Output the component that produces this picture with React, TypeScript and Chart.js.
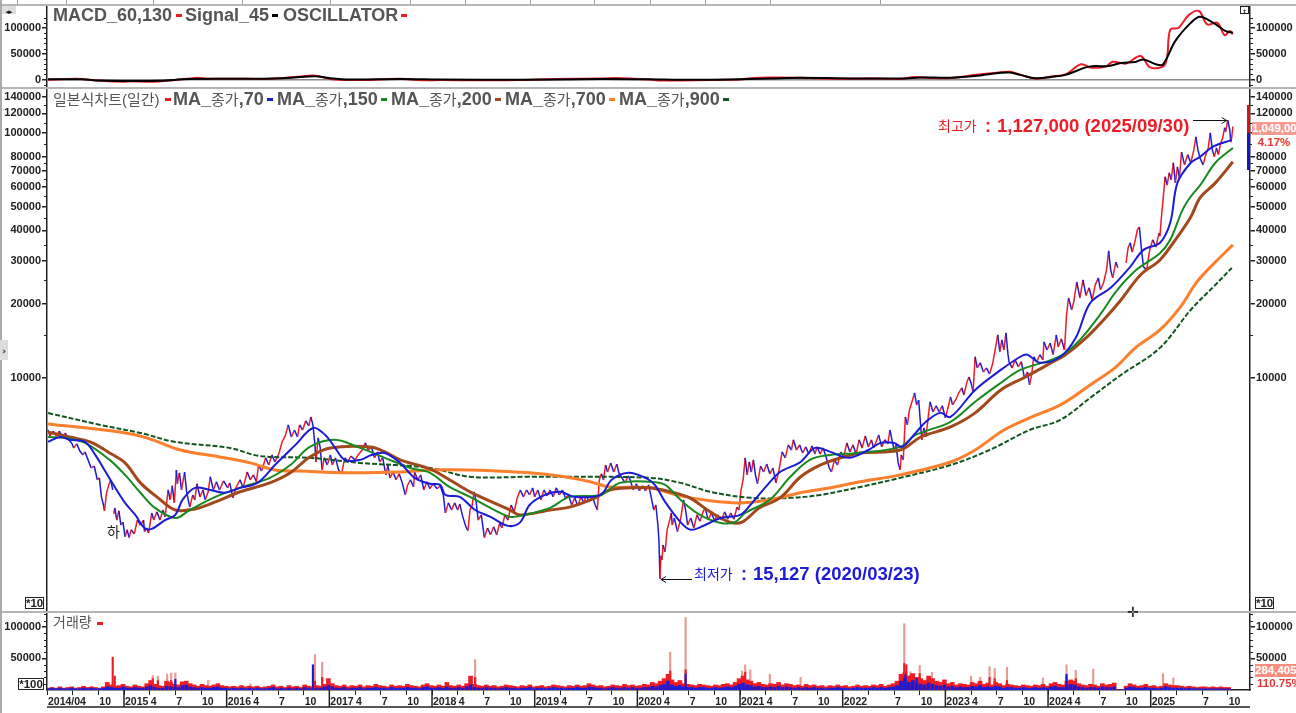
import { useEffect, useRef } from "react";
import { Chart, registerables } from "chart.js";

Chart.register(...registerables);

// time is in years since 2000, daily chart thinned out by eye
type Pair = [number, number | null];

const xMin = 14.25;
const xMax = 25.967;

const pricePath: Pair[] = [
  [14.26,6130],[14.28,5800],[14.31,6070],[14.34,5800],[14.37,6070],[14.40,5740],[14.43,5960],[14.46,5590],[14.49,5430],[14.51,5180],[14.54,5380],[14.57,5030],[14.60,4850],[14.62,4990],[14.65,4630],[14.68,4290],[14.71,4370],[14.74,3840],[14.76,3910],[14.78,3270],[14.80,3030],[14.81,2870],[14.83,3400],[14.85,3630],[14.87,3840],[14.89,3490],[14.895,null],
  [14.90,2790],[14.91,2950],[14.93,2630],[14.95,2870],[14.97,2510],[14.99,2580],[15.01,2250],[15.03,2400],[15.05,2230],[15.07,2400],[15.10,2310],[15.13,2630],[15.16,2510],[15.19,2630],[15.20,2360],[15.22,2440],[15.24,2330],[15.27,2810],[15.29,2630],[15.32,2840],[15.35,2630],[15.38,2890],[15.40,2710],[15.43,3490],[15.45,3180],[15.47,3630],[15.49,3090],[15.51,4210],[15.52,3700],[15.54,4100],[15.56,3490],[15.59,4130],[15.61,3430],[15.64,2970],[15.67,3330],[15.69,3180],[15.71,3700],[15.74,3270],[15.77,3490],[15.79,3180],[15.82,3430],[15.84,3950],[15.87,3490],[15.90,3770],[15.93,3490],[15.97,3800],
  [16.01,3560],[16.03,3730],[16.06,3240],[16.09,3560],[16.13,3840],[16.16,3560],[16.20,4130],[16.23,3840],[16.26,4020],[16.29,3770],[16.31,4410],[16.34,4170],[16.38,4720],[16.41,4410],[16.44,4850],[16.47,4540],[16.51,4940],[16.54,5480],[16.57,5800],[16.60,6430],[16.63,5740],[16.66,6130],[16.69,5740],[16.71,6430],[16.74,6130],[16.77,6680],[16.80,6370],[16.82,6930],[16.84,6430],[16.86,5330],[16.87,4540],[16.89,5690],[16.91,5230],[16.93,4210],[16.95,4720],[16.98,4410],
  [17.01,4850],[17.03,4410],[17.06,4720],[17.09,4210],[17.12,4060],[17.15,4720],[17.18,4540],[17.21,4800],[17.25,4630],[17.28,4850],[17.32,5080],[17.35,5430],[17.38,5080],[17.41,5230],[17.44,4720],[17.47,4990],[17.49,4540],[17.52,4720],[17.55,4020],[17.57,4410],[17.59,3910],[17.62,4130],[17.65,3840],[17.68,4060],[17.71,3730],[17.74,3330],[17.76,3630],[17.79,3840],[17.82,3590],[17.83,4130],[17.86,3840],[17.89,4020],[17.92,3490],[17.95,3770],[17.98,3530],
  [18.01,3700],[18.05,3530],[18.08,3630],[18.11,3330],[18.13,2810],[18.16,3090],[18.19,2890],[18.22,3090],[18.25,2890],[18.27,3060],[18.30,2710],[18.33,2470],[18.35,2380],[18.37,2890],[18.39,3000],[18.41,3430],[18.43,3120],[18.45,2630],[18.48,2760],[18.51,2230],[18.54,2440],[18.57,2290],[18.60,2470],[18.63,2290],[18.66,2560],[18.68,2440],[18.71,2760],[18.74,2630],[18.77,3030],[18.80,2840],[18.83,3240],[18.86,3490],[18.89,3270],[18.92,3490],[18.95,3330],[18.98,3560],
  [19.00,3270],[19.03,3490],[19.06,3180],[19.09,3490],[19.12,3300],[19.15,3490],[19.18,3270],[19.21,3560],[19.24,3330],[19.27,3490],[19.30,3240],[19.33,3330],[19.36,3030],[19.39,3240],[19.42,3000],[19.45,3270],[19.48,3090],[19.50,3330],[19.53,3120],[19.56,3300],[19.59,3030],[19.61,2890],[19.63,3840],[19.65,4060],[19.67,3840],[19.69,4410],[19.71,4130],[19.74,4500],[19.77,4130],[19.80,4450],[19.82,4100],[19.85,3910],[19.88,3730],[19.91,3980],[19.93,3840],[19.96,3490],[19.99,3700],
  [20.02,3460],[20.05,3630],[20.08,3460],[20.11,3660],[20.12,3490],[20.14,3180],[20.16,2890],[20.18,3030],[20.20,2510],[20.21,2180],[20.22,1513],[20.23,1880],[20.24,1810],[20.25,2080],[20.27,1950],[20.29,2400],[20.31,2580],[20.33,2810],[20.34,2510],[20.36,2680],[20.39,2360],[20.42,2630],[20.45,3180],[20.47,2890],[20.49,2510],[20.52,2680],[20.55,2440],[20.58,2760],[20.61,2600],[20.64,2840],[20.66,2950],[20.69,2630],[20.72,2810],[20.75,2630],[20.78,2760],[20.82,2630],[20.85,2840],[20.88,2650],[20.91,2810],[20.94,2650],[20.97,2970],[20.99,2890],
  [21.01,3490],[21.03,3840],[21.05,4720],[21.07,4020],[21.09,4540],[21.11,4130],[21.13,4630],[21.15,4020],[21.17,3700],[21.18,3910],[21.20,4370],[21.23,4130],[21.26,4450],[21.29,4060],[21.32,4290],[21.35,3730],[21.38,4210],[21.41,4990],[21.44,4720],[21.47,5330],[21.50,5080],[21.52,5590],[21.55,5080],[21.58,5330],[21.61,4940],[21.64,5230],[21.67,4890],[21.70,5280],[21.73,4890],[21.75,5230],[21.78,4890],[21.81,5180],[21.84,4720],[21.87,4290],[21.89,4130],[21.92,4630],[21.95,4410],[21.98,4990],
  [22.01,4760],[22.04,5430],[22.07,4990],[22.10,5330],[22.13,4890],[22.16,5590],[22.19,5180],[22.22,5800],[22.25,5230],[22.28,5590],[22.30,5180],[22.33,5540],[22.35,5850],[22.38,5230],[22.41,5590],[22.44,5380],[22.46,6130],[22.48,5590],[22.50,5080],[22.52,5330],[22.54,4500],[22.56,4210],[22.57,4850],[22.59,4630],[22.61,6930],[22.63,6430],[22.65,7400],[22.68,8130],[22.70,8680],[22.72,7760],[22.74,8130],[22.76,6310],[22.77,5590],[22.79,6250],[22.81,5740],[22.83,6740],[22.85,7990],[22.88,7260],[22.91,7700],[22.94,7260],[22.97,7700],
  [23.00,6870],[23.02,7400],[23.05,8370],[23.07,7760],[23.10,8130],[23.13,8680],[23.16,9110],[23.18,8520],[23.21,9630],[23.23,10090],[23.25,9540],[23.27,8770],[23.29,12200],[23.31,10990],[23.34,11530],[23.37,10570],[23.40,10990],[23.43,10370],[23.46,11420],[23.49,13390],[23.51,15000],[23.53,12770],[23.55,14300],[23.57,13000],[23.59,15270],[23.61,12440],[23.62,11640],[23.65,10990],[23.68,11840],[23.71,11100],[23.74,11640],[23.77,10000],[23.80,10570],[23.82,9360],[23.84,10280],[23.86,12200],[23.89,11640],[23.92,12440],[23.95,11840],[23.96,14030],[23.99,13000],
  [24.02,13870],[24.05,12440],[24.08,15000],[24.10,13390],[24.13,14430],[24.16,13000],[24.18,18100],[24.20,21200],[24.23,18950],[24.25,20400],[24.28,24660],[24.31,21200],[24.34,25100],[24.37,21700],[24.40,23320],[24.43,20800],[24.46,23980],[24.49,25600],[24.51,22900],[24.54,24400],[24.57,27600],[24.59,33000],[24.61,27600],[24.63,25600],[24.66,29700],[24.68,28130],[24.72,null],
  [24.76,29500],[24.78,34000],[24.80,35600],[24.82,32600],[24.85,36600],[24.87,40200],[24.89,41300],[24.91,33300],[24.93,28400],[24.96,27600],[24.99,33300],[25.02,36600],[25.05,34200],[25.08,39000],[25.09,37900],[25.10,43300],[25.12,53300],[25.14,66200],[25.16,61200],[25.18,68700],[25.20,64300],[25.22,75500],[25.24,62500],[25.26,72700],[25.28,65500],[25.30,83500],[25.33,74000],[25.36,81500],[25.39,75500],[25.42,85200],[25.44,96200],[25.46,85200],[25.48,79000],[25.51,74000],[25.53,79800],[25.56,86800],[25.58,100000],[25.60,85200],[25.62,79800],[25.64,86800],[25.66,81500],[25.68,90800],[25.70,95000],[25.72,104900],[25.73,101000],[25.75,112700],[25.77,102900],[25.78,91700],[25.79,96200],[25.80,106000],
];

const ma70: Pair[] = [
  [14.26,5490],[14.38,5740],[14.47,5590],[14.62,5480],[14.72,4850],[14.81,4210],[14.91,3590],[15.01,3090],[15.11,2760],[15.20,2440],[15.27,2420],[15.40,2630],[15.50,2760],[15.57,3180],[15.69,3560],[15.84,3490],[15.98,3400],[16.13,3560],[16.30,3730],[16.47,4410],[16.67,5330],[16.84,6250],[16.96,5850],[17.05,5230],[17.15,4630],[17.30,4630],[17.41,4850],[17.54,4940],[17.69,4500],[17.83,3910],[17.98,3700],[18.08,3660],[18.13,3330],[18.27,3270],[18.42,2890],[18.57,2710],[18.74,2490],[18.86,2580],[18.95,3030],[19.10,3330],[19.25,3430],[19.39,3270],[19.64,3330],[19.75,3840],[19.91,4100],[20.08,3910],[20.17,3660],[20.27,3120],[20.42,2580],[20.52,2400],[20.66,2510],[20.81,2680],[21.00,2760],[21.10,3030],[21.25,3590],[21.39,4130],[21.59,4540],[21.73,5180],[21.88,4990],[22.06,4720],[22.25,5080],[22.37,5430],[22.50,5430],[22.58,5230],[22.71,5960],[22.81,6620],[22.95,7200],[23.05,6930],[23.29,8930],[23.54,10780],[23.73,12200],[23.80,12440],[23.92,11530],[24.12,12200],[24.27,14570],[24.41,20200],[24.61,23320],[24.80,28400],[24.93,33300],[25.09,35600],[25.19,43000],[25.26,62500],[25.39,75500],[25.48,79800],[25.61,88000],[25.79,93600],
];
const ma150: Pair[] = [
  [14.26,5740],[14.43,5690],[14.62,5430],[14.86,4630],[15.01,4020],[15.16,3400],[15.30,2950],[15.50,2680],[15.64,2890],[15.89,3270],[16.13,3560],[16.42,3910],[16.62,4410],[16.81,5230],[17.05,5590],[17.30,5180],[17.54,4720],[17.79,4290],[17.98,4100],[18.17,3590],[18.37,3270],[18.61,2890],[18.76,2710],[18.90,2760],[19.15,2950],[19.34,3270],[19.64,3330],[19.83,3730],[20.12,3770],[20.27,3660],[20.42,3180],[20.61,2760],[20.81,2560],[20.95,2580],[21.05,2810],[21.29,3180],[21.49,3950],[21.68,4630],[21.88,4850],[22.15,4940],[22.56,5230],[22.71,5850],[23.05,6620],[23.29,7990],[23.54,9540],[23.73,10780],[24.03,11840],[24.17,12650],[24.32,14430],[24.52,18440],[24.66,22460],[24.86,27600],[25.09,32300],[25.19,36600],[25.31,48500],[25.39,55000],[25.48,61000],[25.63,75500],[25.80,86800],
];
const ma200: Pair[] = [
  [14.26,6010],[14.47,5740],[14.67,5480],[14.86,4940],[15.01,4500],[15.16,3730],[15.32,3270],[15.50,2890],[15.69,2920],[15.89,3120],[16.13,3430],[16.42,3730],[16.62,4100],[16.81,4760],[17.01,5180],[17.40,5230],[17.54,4990],[17.69,4630],[17.98,4250],[18.17,3840],[18.37,3430],[18.76,2890],[18.86,2760],[19.15,2890],[19.34,2970],[19.59,3240],[19.73,3490],[19.93,3560],[20.12,3560],[20.32,3430],[20.51,3240],[20.71,2840],[20.90,2580],[21.02,2580],[21.19,2950],[21.39,3240],[21.59,3950],[21.78,4410],[21.98,4720],[22.17,4940],[22.56,5080],[22.76,5740],[23.05,6310],[23.29,7200],[23.54,8930],[23.78,10090],[24.03,11530],[24.17,12440],[24.37,14570],[24.56,17600],[24.71,20800],[24.90,26300],[25.09,30300],[25.24,36600],[25.39,45400],[25.48,54300],[25.63,62500],[25.80,76200],
];
const ma700: Pair[] = [
  [14.26,6490],[14.96,6010],[15.22,5690],[15.55,5080],[15.93,4760],[16.23,4500],[16.47,4210],[16.71,4170],[17.20,4100],[17.69,4130],[17.98,4210],[18.37,4210],[18.95,4100],[19.29,3950],[19.54,3770],[19.73,3590],[20.12,3560],[20.42,3300],[20.71,3150],[21.00,3090],[21.29,3180],[21.59,3400],[21.88,3560],[22.17,3770],[22.56,4020],[23.05,4540],[23.29,5080],[23.57,6130],[23.82,6870],[24.12,7760],[24.41,9360],[24.66,11070],[24.85,13260],[25.09,15700],[25.29,19500],[25.45,24660],[25.63,29700],[25.80,34900],
];
const ma900: Pair[] = [
  [14.26,7190],[14.77,6430],[15.16,5960],[15.50,5480],[16.03,5180],[16.32,4800],[16.81,4720],[17.30,4500],[17.98,4290],[18.37,3950],[18.95,3950],[19.29,3950],[20.12,3910],[20.42,3730],[20.71,3430],[21.10,3240],[21.49,3240],[21.78,3330],[22.17,3590],[22.56,3910],[23.05,4410],[23.43,5080],[23.82,6130],[24.12,6740],[24.41,8290],[24.71,10280],[25.09,13260],[25.39,18950],[25.63,23980],[25.79,28100],
];

const macdLine: Pair[] = [
  [14.26,-500],[14.45,1000],[14.58,1000],[14.77,-2500],[15.0,-4500],[15.06,-3500],[15.25,-4500],[15.5,-1000],[15.64,2000],[15.72,3500],[15.8,1500],[16.1,1500],[16.32,1000],[16.55,3000],[16.7,5500],[16.86,7500],[17.01,1000],[17.2,-1000],[17.5,0],[17.69,1500],[17.9,-1500],[18.08,-1000],[18.5,-1500],[18.86,-1000],[19.2,1000],[19.64,2000],[19.8,3000],[20.12,0],[20.22,-2000],[20.42,-1800],[20.7,-800],[21.0,0],[21.1,2500],[21.3,4000],[21.59,3500],[21.9,1500],[22.3,1800],[22.56,1000],[22.7,5000],[22.85,3000],[23.05,3000],[23.3,9000],[23.5,13000],[23.63,15000],[23.75,8000],[23.88,1500],[24.03,6000],[24.17,10000],[24.32,29500],[24.42,23000],[24.56,25000],[24.63,34500],[24.76,31000],[24.90,45600],[25.0,23000],[25.14,29500],[25.19,97000],[25.27,100000],[25.37,125000],[25.47,133000],[25.55,107000],[25.65,110000],[25.72,86000],[25.77,94000],[25.80,88000],
];
const signalLine: Pair[] = [
  [14.26,500],[14.58,500],[14.77,-2000],[15.06,-3000],[15.35,-2500],[15.64,1000],[16.32,1500],[16.62,3500],[16.86,6500],[17.01,2500],[17.2,0],[17.69,1000],[18.08,0],[18.86,-500],[19.64,1000],[20.12,500],[20.42,-500],[20.9,200],[21.29,2000],[21.59,3500],[22.08,2000],[22.61,2000],[22.76,4000],[23.05,3500],[23.34,8000],[23.54,13000],[23.63,13500],[23.73,9000],[23.88,2500],[24.03,5000],[24.17,9000],[24.40,25000],[24.59,26000],[24.71,32000],[24.85,34000],[24.93,39000],[25.05,29500],[25.12,29500],[25.24,75000],[25.39,110000],[25.48,122000],[25.61,110000],[25.73,94000],[25.80,91000],
];

// volume in thousands, one value every two weeks from volumeStart
const volumeStart = 14.26;
const volumeRed = [
  3,4,3,5,3,4,5,3,4,6,4,5,4,3,5,12,8,6,7,9,6,5,8,6,5,10,
  15,9,7,6,14,12,9,8,13,14,10,8,6,9,7,6,8,10,7,6,5,6,5,7,5,6,
  5,6,4,5,6,8,5,6,4,7,5,6,4,8,6,5,7,6,9,18,10,7,6,8,5,7,
  6,8,5,7,6,9,7,6,5,8,6,7,6,9,7,6,5,8,10,7,6,8,6,12,7,6,
  8,6,10,22,9,7,6,8,6,7,5,6,8,7,6,5,7,6,8,5,6,7,5,6,8,7,
  6,5,7,6,8,6,7,10,8,6,7,5,6,8,7,6,9,7,8,6,7,9,8,12,10,14,
  18,25,16,12,15,10,9,8,7,9,8,7,6,8,7,9,10,8,12,18,22,16,14,10,12,9,
  8,10,9,12,8,10,9,7,8,6,9,7,8,6,7,5,7,6,8,6,7,5,6,8,6,7,
  6,8,7,9,6,8,10,14,25,28,22,26,20,18,15,22,18,14,12,16,10,12,8,10,9,8,
  12,10,14,9,11,8,12,10,7,9,8,7,6,8,7,6,8,7,9,6,10,12,9,8,14,16,
  14,10,8,7,9,8,6,10,8,9,11,0,0,6,10,8,6,7,9,6,7,5,6,10,8,7,
  7,6,5,6,5,4,5,5,4,5,4,5,4,4,
];
const volumeBlue = [
  2,3,2,3,2,2,3,2,2,3,2,3,2,2,3,5,4,3,3,5,3,3,4,3,3,5,
  7,4,3,3,6,5,4,4,7,8,5,4,3,4,3,3,4,5,3,3,2,3,2,3,2,3,
  2,3,2,2,3,4,2,3,2,3,2,3,2,4,3,2,3,3,5,7,5,3,3,4,2,3,
  3,4,2,3,3,4,3,3,2,4,3,3,3,4,3,3,2,4,5,3,3,4,3,5,3,3,
  4,3,5,8,4,3,3,4,3,3,2,3,4,3,3,2,3,3,4,2,3,3,2,3,4,3,
  3,2,3,3,4,3,3,5,4,3,3,2,3,4,3,3,4,3,4,3,3,4,4,6,5,7,
  9,14,8,6,7,5,4,4,3,4,4,3,3,4,3,4,5,4,6,9,11,8,7,5,6,4,
  4,5,4,6,4,5,4,3,4,3,4,3,4,3,3,2,3,3,4,3,3,2,3,4,3,3,
  3,4,3,4,3,4,5,7,14,18,12,15,11,9,8,11,9,7,6,8,5,6,4,5,4,4,
  6,5,7,4,5,4,6,5,3,4,4,3,3,4,3,3,4,3,4,3,5,6,4,4,7,9,
  8,5,4,3,4,4,3,5,4,4,5,0,0,3,5,4,3,3,4,3,3,2,3,5,4,3,
  3,3,2,3,2,2,2,2,2,2,2,2,2,2,
];
const volumePale: Pair[] = [
  [15.28,23],[15.33,22],[15.42,25],[15.46,27],[15.50,27],[15.82,15],[16.23,10],[16.86,56],[16.93,44],[18.42,48],[20.32,60],[20.47,115],[21.02,30],[21.05,40],[21.10,32],[21.29,25],[21.59,20],[22.60,105],[22.66,29],[22.75,39],[22.87,28],[23.25,22],[23.34,20],[23.43,37],[23.48,34],[23.60,36],[23.95,19],[24.18,40],[24.27,31],[24.44,33],[25.12,26],[25.22,19],
];
const volumeStrong: Pair[] = [
  [14.89,52],[14.91,22],[15.28,18],[15.33,15],[15.46,15],[16.86,14],[16.93,20],[18.42,20],[20.32,30],[20.47,32],[21.05,28],[22.60,42],[22.62,40],[22.66,24],[22.75,26],[23.43,20],[23.48,18],[23.60,15],[24.18,20],[24.27,18],
];
const volumeBlueSpikes: Pair[] = [
  [15.50,17],[16.84,40],[20.47,25],[22.61,24],[22.72,18],[24.18,25],
];

const macdTicks = [100000, 50000, 0];
const macdMinor = [120000, 110000, 90000, 80000, 70000, 60000, 40000, 30000, 20000, 10000, -10000];
const priceTicks = [140000, 120000, 100000, 80000, 70000, 60000, 50000, 40000, 30000, 20000, 10000];
const priceMinor = [130000, 110000, 90000, 75000, 65000, 55000, 45000, 35000, 25000, 15000];
const volumeTicks = [100, 50];
const volumeMinor = [120, 110, 90, 80, 70, 60, 40, 30, 20, 10];

const years = [15, 16, 17, 18, 19, 20, 21, 22, 23, 24, 25];
const noAprilLabel = [22, 25];

const xTicks = [
  { value: 14.25, label: "2014/04" },
  { value: 14.5, label: "" },
  { value: 14.75, label: "10" },
  ...years.flatMap((y) => [
    { value: y, label: String(2000 + y) },
    { value: y + 0.25, label: noAprilLabel.includes(y) ? "" : "4" },
    { value: y + 0.5, label: "7" },
    { value: y + 0.75, label: "10" },
  ]),
];

const RED = "#ee1c25";
const BLUE = "#1c1cd6";
const GREEN = "#178a1f";
const BROWN = "#a2491c";
const ORANGE = "#fb7f2c";
const DARKGREEN = "#11551f";
const INK = "#222";
const GREY = "#555";
const FONT = "'Liberation Sans', 'Noto Sans CJK KR', sans-serif";
const tickFont = { family: "'Liberation Sans', sans-serif", size: 11, weight: "bold" as const };
const dateFont = { family: "'Liberation Sans', sans-serif", size: 10.5, weight: "bold" as const };

const pts = (pairs: Pair[]) => pairs.map(([x, y]) => ({ x, y }));

function yAxis(position: "left" | "right", type: string, min: number, max: number, ticks: number[], format: (v: number) => string, zero = false) {
  return {
    type,
    position,
    min,
    max,
    afterFit: (s: any) => {
      s.width = position === "left" ? 47 : 46;
      // no room kept for half labels, the plot fills the whole panel height
      s.paddingTop = 0;
      s.paddingBottom = 0;
    },
    afterBuildTicks: (s: any) => {
      s.ticks = ticks.map((value) => ({ value }));
    },
    border: { color: INK, width: 1.5 },
    grid: {
      drawOnChartArea: zero,
      tickLength: 5,
      tickColor: INK,
      lineWidth: 1.5,
      color: (c: any) => (c.tick && c.tick.value === 0 ? "#8a8a8a" : "transparent"),
    },
    ticks: {
      autoSkip: false,
      padding: 1,
      color: INK,
      font: tickFont,
      callback: (v: any) => format(Number(v)),
    },
  };
}

const hiddenX = { type: "linear", min: xMin, max: xMax, display: false };

// little unlabelled ticks on both axes
function minorTickPlugin(minor: number[]) {
  return {
    id: "minorTicks",
    afterDraw(chart: any) {
      const { ctx, chartArea, scales } = chart;
      ctx.save();
      ctx.strokeStyle = INK;
      ctx.lineWidth = 1;
      minor.forEach((v) => {
        const y = Math.round(scales.y.getPixelForValue(v)) + 0.5;
        ctx.beginPath();
        ctx.moveTo(chartArea.left - 3, y);
        ctx.lineTo(chartArea.left, y);
        ctx.moveTo(chartArea.right, y);
        ctx.lineTo(chartArea.right + 3, y);
        ctx.stroke();
      });
      ctx.restore();
    },
  };
}

// arrows from the high and low captions to their bars
const pricePointers = {
  id: "pricePointers",
  afterDatasetsDraw(chart: any) {
    const { ctx, scales } = chart;
    const arrow = (fromX: number, t: number, v: number, gap: number) => {
      const x = scales.x.getPixelForValue(t) + gap;
      const y = Math.round(scales.y.getPixelForValue(v)) + 0.5;
      const d = x > fromX ? -5 : 5;
      ctx.beginPath();
      ctx.moveTo(fromX, y);
      ctx.lineTo(x, y);
      ctx.moveTo(x + d, y - 3);
      ctx.lineTo(x, y);
      ctx.lineTo(x + d, y + 3);
      ctx.stroke();
    };
    ctx.save();
    ctx.strokeStyle = "#111";
    ctx.lineWidth = 1;
    arrow(1193, 25.75, 112700, -1);
    arrow(692, 20.22, 1513, 1);
    ctx.restore();
  },
};

// year ticks run down to the bottom rule of the date strip
const dateStrip = {
  id: "dateStrip",
  afterDraw(chart: any) {
    const { ctx, chartArea, scales } = chart;
    const bottom = chartArea.bottom + 17;
    ctx.save();
    ctx.strokeStyle = INK;
    ctx.lineWidth = 1.5;
    ctx.beginPath();
    ctx.moveTo(chartArea.left, bottom);
    ctx.lineTo(chartArea.right, bottom);
    years.forEach((y) => {
      const x = scales.x.getPixelForValue(y);
      ctx.moveTo(x, chartArea.bottom);
      ctx.lineTo(x, bottom);
    });
    ctx.stroke();
    ctx.restore();
  },
};

const baseOptions = {
  responsive: false,
  animation: false as const,
  events: [],
  layout: { padding: 0 },
  plugins: { legend: { display: false }, tooltip: { enabled: false } },
  elements: { point: { radius: 0 } },
};

function line(pairs: Pair[], color: string, width: number, extra: object = {}) {
  return {
    data: pts(pairs),
    borderColor: color,
    borderWidth: width,
    pointRadius: 0,
    tension: 0.35,
    ...extra,
  };
}

function bars(points: { x: number; y: number | null }[], color: string, thickness: number, order: number) {
  return {
    data: points,
    backgroundColor: color,
    barThickness: thickness,
    grouped: false,
    order,
  };
}

const fmt = (v: number) => String(v);

function Text({ x, y, size = 18, color = GREY, bold = true, children }: any) {
  return (
    <span
      style={{
        position: "absolute",
        left: x,
        top: y,
        transform: "translateY(-50%)",
        whiteSpace: "nowrap",
        fontFamily: FONT,
        fontSize: size,
        fontWeight: bold ? 700 : 400,
        color,
        lineHeight: 1,
      }}
    >
      {children}
    </span>
  );
}

function Dash({ x, y, color }: { x: number; y: number; color: string }) {
  return <div style={{ position: "absolute", left: x, top: y - 1, width: 6, height: 3, background: color }} />;
}

function Box({ x, y, w, h, bg, border, children }: any) {
  return (
    <div
      style={{
        position: "absolute",
        left: x,
        top: y,
        width: w,
        height: h,
        background: bg,
        border,
        boxSizing: "border-box",
        overflow: "hidden",
        fontFamily: FONT,
        fontWeight: 700,
        fontSize: 11.5,
        lineHeight: `${h - (border ? 2 : 0)}px`,
        textAlign: "center",
        whiteSpace: "nowrap",
      }}
    >
      {children}
    </div>
  );
}

function MaLabel({ x, y, period }: { x: number; y: number; period: number }) {
  return (
    <Text x={x} y={y}>
      MA_<span style={{ fontSize: 15, fontWeight: 400 }}>종가</span>,{period}
    </Text>
  );
}

const topStripSeps = [17, 66, 153, 242, 330, 410, 465, 530, 594, 650, 705, 770, 880];

export default function App() {
  const macdRef = useRef<HTMLCanvasElement>(null);
  const priceRef = useRef<HTMLCanvasElement>(null);
  const volumeRef = useRef<HTMLCanvasElement>(null);

  useEffect(() => {
    if (!macdRef.current || !priceRef.current || !volumeRef.current) return;

    const macdChart = new Chart(macdRef.current, {
      type: "line",
      data: {
        datasets: [line(signalLine, "#000", 2), line(macdLine, RED, 2)],
      },
      options: {
        ...baseOptions,
        scales: {
          x: hiddenX,
          y: yAxis("left", "linear", -14560, 142700, macdTicks, fmt, true),
          yRight: yAxis("right", "linear", -14560, 142700, macdTicks, fmt),
        },
      },
      plugins: [minorTickPlugin(macdMinor)],
    } as any);

    const priceChart = new Chart(priceRef.current, {
      type: "line",
      data: {
        datasets: [
          line(ma70, BLUE, 2),
          line(ma150, GREEN, 2),
          line(ma200, BROWN, 3),
          line(ma700, ORANGE, 3),
          line(ma900, DARKGREEN, 2, { borderDash: [5, 2] }),
          {
            data: pts(pricePath),
            borderWidth: 1.5,
            pointRadius: 0,
            tension: 0,
            borderColor: RED,
            segment: {
              borderColor: (c: any) => (c.p1.parsed.y >= c.p0.parsed.y ? RED : BLUE),
            },
          },
        ],
      },
      options: {
        ...baseOptions,
        scales: {
          x: hiddenX,
          y: yAxis("left", "logarithmic", 1119, 151000, priceTicks, fmt),
          yRight: yAxis("right", "logarithmic", 1119, 151000, priceTicks, fmt),
        },
      },
      plugins: [minorTickPlugin(priceMinor), pricePointers],
    } as any);

    const volumeGrid = (values: number[]) => values.map((y, i) => ({ x: volumeStart + i / 26, y }));
    const volumeChart = new Chart(volumeRef.current, {
      type: "bar",
      data: {
        datasets: [
          bars(volumeGrid(volumeBlue), BLUE, 3, 0),
          bars(pts(volumeBlueSpikes), BLUE, 1.5, 1),
          bars(pts(volumeStrong), RED, 1.5, 2),
          bars(volumeGrid(volumeRed), RED, 4, 3),
          bars(pts(volumePale), "#e89a94", 1.5, 4),
        ],
      },
      options: {
        ...baseOptions,
        scales: {
          x: {
            type: "linear",
            min: xMin,
            max: xMax,
            offset: false,
            afterFit: (s: any) => {
              s.height = 21;
              s.paddingLeft = 0;
              s.paddingRight = 0;
            },
            afterBuildTicks: (s: any) => {
              s.ticks = xTicks.map(({ value }) => ({ value }));
            },
            border: { color: INK, width: 1.5 },
            grid: { offset: false, drawOnChartArea: false, tickLength: 5, color: INK },
            ticks: {
              autoSkip: false,
              maxRotation: 0,
              minRotation: 0,
              align: "start",
              labelOffset: 1,
              padding: 1,
              color: INK,
              font: dateFont,
              callback: (_: any, i: number) => xTicks[i].label,
            },
          },
          y: yAxis("left", "linear", 0, 122, volumeTicks, (v) => String(v * 1000)),
          yRight: yAxis("right", "linear", 0, 122, volumeTicks, (v) => String(v * 1000)),
        },
      },
      plugins: [minorTickPlugin(volumeMinor), dateStrip],
    } as any);

    return () => {
      macdChart.destroy();
      priceChart.destroy();
      volumeChart.destroy();
    };
  }, []);

  return (
    <div style={{ position: "fixed", left: 0, top: 0, width: 1296, height: 713, background: "#fff", overflow: "hidden", filter: "blur(0.35px)" }}>
      {/* clipped date strip of the window above the chart */}
      {topStripSeps.map((x) => (
        <div key={x} style={{ position: "absolute", left: x, top: 0, width: 1, height: 4, background: "#999" }} />
      ))}
      <div style={{ position: "absolute", left: 0, top: 4, width: 1296, height: 2, background: "#b5b5b5" }} />
      <div style={{ position: "absolute", left: 0, top: 87, width: 1296, height: 2, background: "#b5b5b5" }} />
      <div style={{ position: "absolute", left: 0, top: 611, width: 1296, height: 2, background: "#b5b5b5" }} />
      <div style={{ position: "absolute", left: 0, top: 0, width: 2, height: 713, background: "#aaa" }} />

      <canvas ref={macdRef} width={1296} height={81} style={{ position: "absolute", left: 0, top: 6, width: 1296, height: 81 }} />
      <canvas ref={priceRef} width={1296} height={522} style={{ position: "absolute", left: 0, top: 89, width: 1296, height: 522 }} />
      <canvas ref={volumeRef} width={1296} height={98} style={{ position: "absolute", left: 0, top: 613, width: 1296, height: 98 }} />

      <Text x={53} y={15}>MACD_60,130</Text>
      <Dash x={176} y={15} color={RED} />
      <Text x={185} y={15}>Signal_45</Text>
      <Dash x={272} y={15} color="#000" />
      <Text x={283} y={15}>OSCILLATOR</Text>
      <Dash x={401} y={15} color={RED} />

      <Text x={53} y={99} size={15} bold={false}>일본식차트(일간)</Text>
      <Dash x={165} y={99} color={RED} />
      <MaLabel x={173} y={99} period={70} />
      <Dash x={267} y={99} color={BLUE} />
      <MaLabel x={277} y={99} period={150} />
      <Dash x={381} y={99} color={GREEN} />
      <MaLabel x={391} y={99} period={200} />
      <Dash x={495} y={99} color={BROWN} />
      <MaLabel x={505} y={99} period={700} />
      <Dash x={609} y={99} color={ORANGE} />
      <MaLabel x={619} y={99} period={900} />
      <Dash x={723} y={99} color={DARKGREEN} />

      <Text x={53} y={622} size={14} bold={false}>거래량</Text>
      <Dash x={97} y={623} color={RED} />

      <Text x={938} y={126} size={14} color={RED} bold={false}>최고가</Text>
      <Text x={985} y={126} color={RED}>:</Text>
      <Text x={997} y={126} size={18.5} color={RED}>1,127,000 (2025/09/30)</Text>

      <Text x={694} y={574} size={14} color={BLUE} bold={false}>최저가</Text>
      <Text x={741} y={574} color={BLUE}>:</Text>
      <Text x={753} y={574} size={18.5} color={BLUE}>15,127 (2020/03/23)</Text>

      <Text x={107} y={532} size={14} color="#222" bold={false}>하</Text>

      {/* last price marker on the right axis */}
      <div style={{ position: "absolute", left: 1247, top: 105, width: 3, height: 28, background: "#d61414" }} />
      <div style={{ position: "absolute", left: 1247, top: 133, width: 3, height: 37, background: "#1414d0" }} />
      <Box x={1252} y={122} w={44} h={13} bg="#f99a92"><span style={{ color: "#fff" }}>1,049,000</span></Box>
      <Box x={1252} y={135} w={44} h={15} bg="#fff"><span style={{ color: "#e03a3a" }}>4.17%</span></Box>
      <Box x={1255} y={664} w={41} h={13} bg="#f98d80"><span style={{ color: "#fff" }}>284,405</span></Box>
      <Text x={1257} y={684} size={11.5} color="#e03a3a">110.75%</Text>

      <Box x={25} y={597} w={19} h={12} border="1px solid #222"><span style={{ color: "#222" }}>*10</span></Box>
      <Box x={1255} y={597} w={19} h={12} border="1px solid #222"><span style={{ color: "#222" }}>*10</span></Box>
      <Box x={18} y={678} w={26} h={12} border="1px solid #222"><span style={{ color: "#222" }}>*100</span></Box>

      {/* window buttons */}
      <Box x={2} y={6} w={14} h={8} bg="#ddd"><span style={{ color: "#222", fontSize: 7, fontFamily: "DejaVu Sans" }}>◂▸</span></Box>
      <Box x={0} y={340} w={8} h={20} bg="#ddd"><span style={{ color: "#222", fontSize: 9, fontFamily: "DejaVu Sans" }}>›</span></Box>
      <Box x={1240} y={6} w={9} h={8} border="1px solid #222"><span style={{ color: "#222", fontSize: 6, fontFamily: "DejaVu Sans" }}>↕</span></Box>
      <Text x={1127} y={612} size={14} color="#222" bold={false}>✛</Text>
    </div>
  );
}
